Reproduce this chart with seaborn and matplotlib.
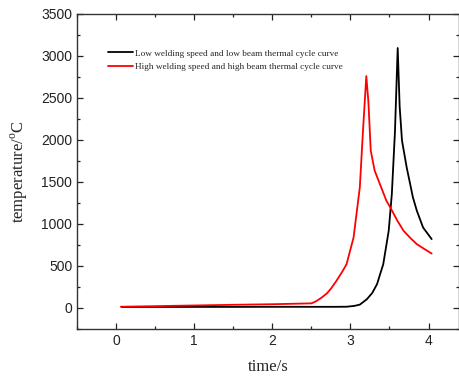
import numpy as np
import pandas as pd
import matplotlib
matplotlib.use("Agg")
import matplotlib.pyplot as plt
import seaborn as sns
from matplotlib.ticker import MultipleLocator

# Data
low_t = [0.07, 0.5, 1.0, 1.5, 2.0, 2.5, 2.8, 2.95, 3.05, 3.12, 3.21, 3.28, 3.34, 3.42, 3.49, 3.53, 3.57, 3.605,
         3.63, 3.66, 3.72, 3.8, 3.85, 3.93, 4.04]
low_v = [12, 12, 13, 13, 14, 14, 14, 15, 25, 40, 104, 180, 283, 521, 919, 1357, 2100, 3094,
         2400, 1993, 1674, 1316, 1158, 958, 820]
high_t = [0.06, 0.5, 1.0, 1.5, 2.0, 2.5, 2.56, 2.63, 2.7, 2.75, 2.82, 2.9, 2.95, 3.04, 3.12, 3.16, 3.203, 3.23,
          3.26, 3.31, 3.4, 3.46, 3.51, 3.6, 3.68, 3.77, 3.85, 3.95, 4.04]
high_v = [15, 22, 30, 38, 45, 55, 80, 123, 175, 230, 322, 440, 521, 839, 1436, 2100, 2760, 2450,
          1873, 1635, 1420, 1277, 1197, 1040, 919, 830, 760, 700, 648]
labels = ["Low welding speed and low beam thermal cycle curve",
          "High welding speed and high beam thermal cycle curve"]

df = pd.concat([
    pd.DataFrame({"time": low_t, "temp": low_v, "curve": labels[0]}),
    pd.DataFrame({"time": high_t, "temp": high_v, "curve": labels[1]}),
])

sns.set_style("ticks")
plt.rcParams["font.family"] = ["Liberation Sans", "DejaVu Sans"]
plt.rcParams["xtick.direction"] = "in"
plt.rcParams["ytick.direction"] = "in"
plt.rcParams["mathtext.fontset"] = "custom"
plt.rcParams["mathtext.rm"] = "Liberation Serif"

fig = plt.figure(figsize=(4.59, 3.76), dpi=100)
ax = fig.add_axes([0.168, 0.125, 0.832, 0.838])

sns.lineplot(data=df, x="time", y="temp", hue="curve", palette=["#000000", "#ff0000"],
             ax=ax, linewidth=1.3, sort=False, estimator=None)

ax.set_xlim(-0.5, 4.39)
ax.set_ylim(-250, 3500)
ax.xaxis.set_major_locator(MultipleLocator(1))
ax.xaxis.set_minor_locator(MultipleLocator(0.5))
ax.yaxis.set_major_locator(MultipleLocator(500))
ax.yaxis.set_minor_locator(MultipleLocator(250))
ax.tick_params(which="both", top=True, right=True, labeltop=False, labelright=False,
               colors="#222222", labelcolor="#222222")
ax.tick_params(which="major", length=4, width=0.9, labelsize=10)
ax.tick_params(which="minor", length=2.5, width=0.9)
for s in ax.spines.values():
    s.set_linewidth(1.0)
    s.set_color("#333333")

serif = ["Liberation Serif", "DejaVu Serif"]
ax.set_xlabel("time/s", fontsize=12, family=serif, labelpad=8)
ax.set_ylabel("temperature/$^{\\rm o}$C", fontsize=12, family=serif, labelpad=8)

leg = ax.legend(loc="upper left", bbox_to_anchor=(0.06, 0.915), frameon=False,
                prop={"family": serif, "size": 6.7}, handlelength=2.6, handletextpad=0.3,
                labelspacing=0.55)
for line in leg.get_lines():
    line.set_linewidth(1.3)

fig.savefig("out.png", dpi=100)
